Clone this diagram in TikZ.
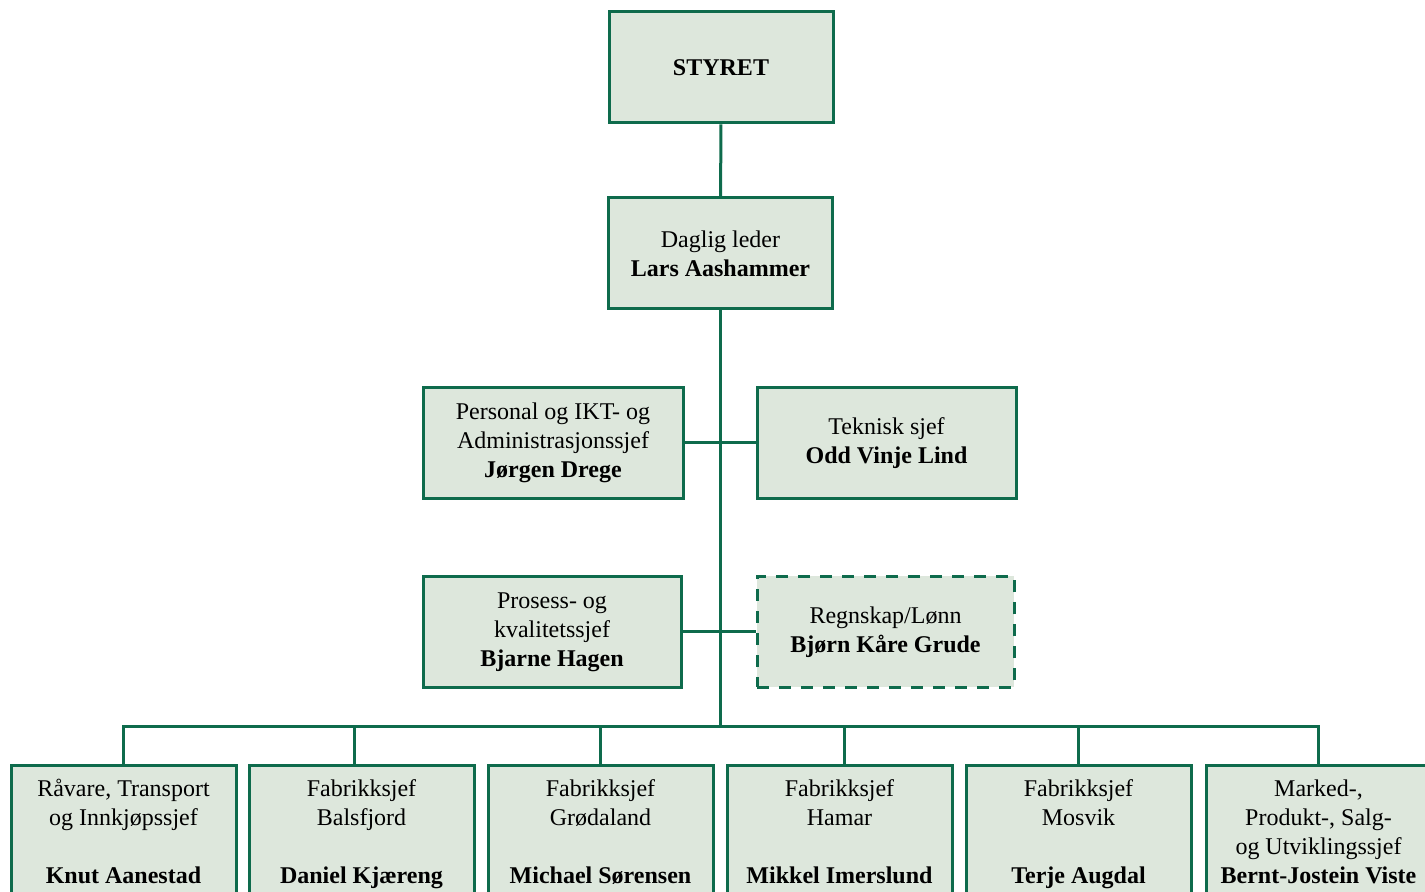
\documentclass[tikz,border=0pt]{standalone}
\usepackage{fontspec}
\setmainfont{Liberation Serif}
\definecolor{orgline}{HTML}{0E6B4C}
\definecolor{orgfill}{HTML}{DDE7DC}
\begin{document}
\begin{tikzpicture}[x=0.5pt,y=-0.5pt,
  box/.style={draw=orgline,fill=orgfill,line width=1.5pt,align=center,
    font=\fontsize{12}{14.5}\selectfont,minimum height=55.5pt,inner sep=2pt},
  staffbox/.style={box,draw=orgline,dashed,dash pattern=on 6pt off 5pt},
  unitbox/.style={box,minimum height=0pt,minimum width=112.5pt,anchor=north,
    inner ysep=7pt,text depth=30pt},
  link/.style={draw=orgline,line width=1.5pt}]
  \useasboundingbox (0,0) rectangle (1425,892);
  % Top
  \node[box,minimum width=112pt] (styret) at (721,67.5) {\textbf{STYRET}};
  \node[box,minimum width=112pt] (leder) at (720.5,253.5) {Daglig leder\\\textbf{Lars Aashammer}};
  % Staff
  \node[box,minimum width=130pt] (personal) at (553,443) {Personal og IKT- og\\Administrasjonssjef\\\textbf{Jørgen Drege}};
  \node[box,minimum width=129.5pt] (teknisk) at (886.5,443) {Teknisk sjef\\\textbf{Odd Vinje Lind}};
  \node[box,minimum width=129pt] (prosess) at (552,632) {Prosess- og\\kvalitetssjef\\\textbf{Bjarne Hagen}};
  \node[staffbox,minimum width=128.5pt] (regnskap) at (885.5,632) {Regnskap/Lønn\\\textbf{Bjørn Kåre Grude}};
  % Units
  \node[unitbox] (raavare) at (123.5,764) {Råvare, Transport\\og Innkjøpssjef\\[14.5pt]\textbf{Knut Aanestad}};
  \node[unitbox] (balsfjord) at (361.5,764) {Fabrikksjef\\Balsfjord\\[14.5pt]\textbf{Daniel Kjæreng}};
  \node[unitbox] (grodaland) at (600.5,764) {Fabrikksjef\\Grødaland\\[14.5pt]\textbf{Michael Sørensen}};
  \node[unitbox] (hamar) at (839.5,764) {Fabrikksjef\\Hamar\\[14.5pt]\textbf{Mikkel Imerslund}};
  \node[unitbox] (mosvik) at (1078.5,764) {Fabrikksjef\\Mosvik\\[14.5pt]\textbf{Terje Augdal}};
  \node[unitbox] (marked) at (1318.5,764) {Marked-,\\Produkt-, Salg-\\og Utviklingssjef\\\textbf{Bernt-Jostein Viste}};
  % Lines
  \coordinate (spine) at (720.5,727);
  \draw[link] (styret) -- (leder);
  \draw[link] (leder) -- (spine);
  \draw[link] (personal) -- (teknisk);
  \draw[link] (prosess) -- (regnskap);
  \draw[link] (raavare.north) |- (spine) -| (marked.north);
  \draw[link] ([xshift=-3.75pt]balsfjord.north) -- ([xshift=-3.75pt]balsfjord.north |- spine);
  \draw[link] (grodaland.north) -- (grodaland.north |- spine);
  \draw[link] ([xshift=2.25pt]hamar.north) -- ([xshift=2.25pt]hamar.north |- spine);
  \draw[link] (mosvik.north) -- (mosvik.north |- spine);
\end{tikzpicture}
\end{document}
